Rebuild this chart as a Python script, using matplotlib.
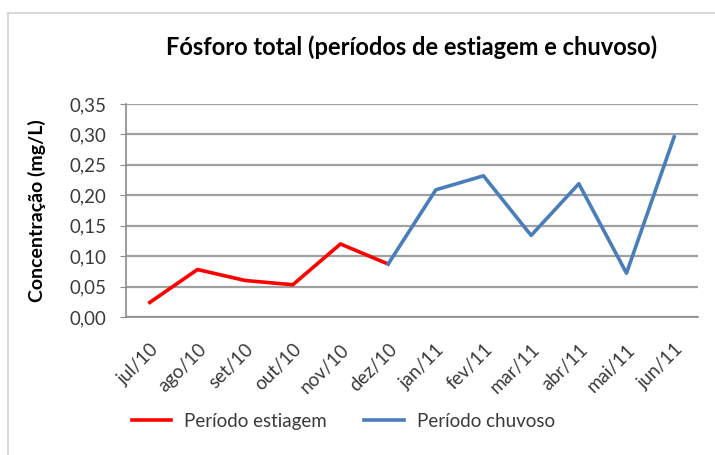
import matplotlib
matplotlib.use("Agg")
import matplotlib.pyplot as plt
from matplotlib.patches import Rectangle

plt.rcParams['font.family'] = ['Lato', 'DejaVu Sans']

# dados
meses = ['jul/10', 'ago/10', 'set/10', 'out/10', 'nov/10', 'dez/10',
         'jan/11', 'fev/11', 'mar/11', 'abr/11', 'mai/11', 'jun/11']
estiagem = [0.024, 0.078, 0.060, 0.053, 0.120, 0.087]
chuvoso = [0.087, 0.209, 0.232, 0.134, 0.219, 0.072, 0.296]
yticks = [0.00, 0.05, 0.10, 0.15, 0.20, 0.25, 0.30, 0.35]

fig = plt.figure(figsize=(7.15, 4.55), dpi=100)
ax = fig.add_axes([0.1762, 0.3033, 0.8, 0.4681])

x_est = list(range(0, len(estiagem)))
x_chu = list(range(len(estiagem) - 1, len(meses)))
ax.plot(x_est, estiagem, color='#FF0000', lw=2.6, label='Período estiagem',
        solid_joinstyle='round', zorder=3)
ax.plot(x_chu, chuvoso, color='#4A7EBB', lw=2.6, label='Período chuvoso',
        solid_joinstyle='round', zorder=3)

ax.set_xlim(-0.5, len(meses) - 0.5)
ax.set_ylim(0, 0.35)
ax.set_yticks(yticks)
ax.set_yticklabels([('%.2f' % v).replace('.', ',') for v in yticks],
                   fontsize=13.5, color='#3A3A3A')
ax.set_xticks(range(len(meses)))
ax.set_xticklabels(meses, rotation=45, ha='right', rotation_mode='anchor',
                   fontsize=13.5, color='#3A3A3A')
ax.tick_params(axis='x', length=0, pad=17)
ax.tick_params(axis='y', length=4, color='#8C8C8C', pad=10)

ax.grid(axis='y', color='#A0A0A0', lw=1.6)
ax.set_axisbelow(True)
for s in ['top', 'right']:
    ax.spines[s].set_visible(False)
for s in ['left', 'bottom']:
    ax.spines[s].set_color('#8C8C8C')
    ax.spines[s].set_linewidth(1.2)

ax.set_ylabel('Concentração (mg/L)', fontsize=14, fontweight='bold', labelpad=17)
fig.text(0.576, 1 - 47 / 455, 'Fósforo total (períodos de estiagem e chuvoso)',
         fontsize=17, fontweight='bold', ha='center', va='center')

fig.legend(loc='center', bbox_to_anchor=(0.48, 0.074), ncol=2, frameon=False,
           fontsize=13.5, handlelength=2.1, handletextpad=0.7, columnspacing=2.0,
           labelcolor='#3A3A3A')

fig.patches.append(Rectangle((8 / 715, -0.1), 1.1, (455 - 13) / 455 + 0.1,
                             transform=fig.transFigure, fill=False,
                             edgecolor='#D9D9D9', lw=1.5))

fig.savefig('out.png', dpi=100)
